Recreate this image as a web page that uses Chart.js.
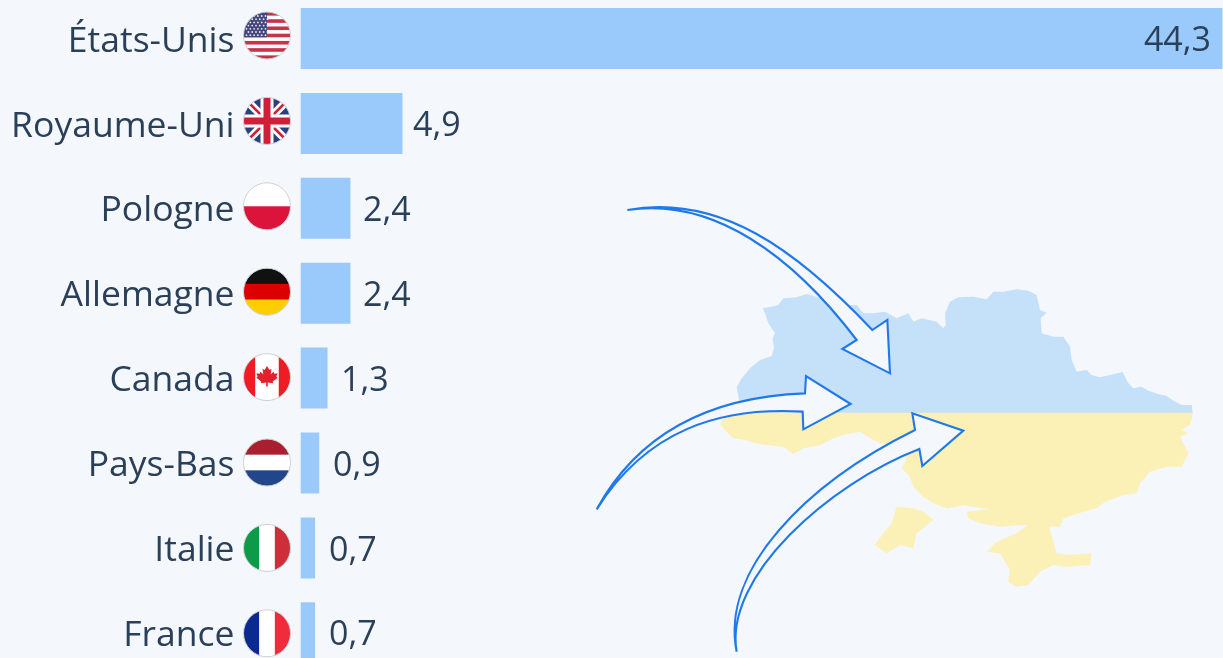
<!DOCTYPE html>
<html lang="fr">
<head>
<meta charset="utf-8">
<title>États-Unis et aide à l'Ukraine</title>
<script src="https://cdn.jsdelivr.net/npm/chart.js@4/dist/chart.umd.min.js"></script>
<style>
    html, body { margin: 0; width: 1223px; height: 658px; overflow: hidden; background: #f4f7fb; }
    #wrap { position: absolute; left: 0; top: -5px; }
    canvas { display: block; }
</style>
</head>
<body>
<div id="wrap"><canvas id="barChart" width="1237" height="690" style="width:1237px;height:690px"></canvas></div>
<script>
const categories = ['États-Unis', 'Royaume-Uni', 'Pologne', 'Allemagne', 'Canada', 'Pays-Bas', 'Italie', 'France'];
const values = [44.3, 4.9, 2.4, 2.4, 1.3, 0.9, 0.7, 0.7];
const flagCodes = ['us', 'uk', 'pl', 'de', 'ca', 'nl', 'it', 'fr'];

const BG = '#f4f7fb';
const TEXT = '#2a3f58';
const CANVAS_TOP = 5; // the canvas is pushed 5px above the window

const mapMain = [[110,352],[125,325],[150,295],[180,270],[215,258],[222,235],[218,205],[225,190],[205,160],[195,130],[188,115],[215,110],[235,105],[250,85],[290,82],[320,72],[350,80],[380,90],[420,105],[470,105],[490,130],[520,130],[555,125],[590,145],[625,130],[640,155],[665,145],[710,155],[730,175],[737,165],[735,130],[750,95],[775,82],[820,80],[860,88],[880,65],[910,65],[950,58],[985,62],[1010,75],[1020,120],[1040,128],[1022,145],[1025,190],[1060,200],[1090,200],[1110,230],[1115,270],[1130,305],[1160,300],[1175,315],[1200,322],[1230,315],[1268,306],[1285,340],[1300,355],[1325,350],[1345,362],[1375,372],[1400,378],[1420,392],[1445,405],[1475,405],[1478,428],[1470,465],[1445,480],[1465,490],[1440,500],[1465,550],[1445,590],[1400,590],[1350,605],[1320,640],[1310,670],[1270,675],[1215,695],[1190,715],[1150,725],[1090,745],[1080,770],[1040,770],[960,765],[900,770],[840,760],[805,745],[800,725],[868,718],[790,706],[740,715],[700,700],[670,680],[640,650],[630,620],[605,595],[620,565],[580,530],[530,515],[480,485],[440,492],[400,505],[360,525],[310,535],[280,552],[250,530],[200,525],[165,520],[135,510],[100,505],[75,480],[60,462],[85,428],[118,395]];
const mapBudjak = [[590,710],[640,715],[670,725],[700,750],[650,790],[640,835],[600,825],[560,850],[525,825],[550,790],[575,760]];
const mapCrimea = [[1045,765],[1070,850],[1100,855],[1175,850],[1170,885],[1100,890],[1060,885],[1020,905],[985,945],[950,950],[925,935],[930,900],[900,850],[860,845],[890,815],[950,790],[985,765]];

const arrows = [
    { tail: [142,60], up: [[420,10],[650,180],[877,420]], head: [[922,390],[930,550],[787,477],[830,450]], down: [[640,200],[400,20],[142,60]] },
    { tail: [50,958], up: [[180,720],[400,620],[675,610]], head: [[678,558],[812,642],[670,718],[668,665]], down: [[420,650],[200,720],[50,958]] },
    { tail: [470,1385], up: [[420,1140],[680,880],[1005,720]], head: [[997,670],[1150,722],[1027,828],[1018,777]], down: [[750,880],[430,1160],[470,1385]] }
];

function tracePoly(ctx, pts) {
    ctx.beginPath();
    pts.forEach((p, i) => {
        const x = 700 + p[0] / 3, y = 270 + p[1] / 3;
        if (i === 0) ctx.moveTo(x, y); else ctx.lineTo(x, y);
    });
    ctx.closePath();
}

function drawMap(ctx) {
    const splitY = 270 + 428 / 3;
    [[-10, splitY + 10, '#c5e0f9'], [splitY, 700, '#fbf0b5']].forEach(([from, to, color]) => {
        ctx.save();
        ctx.beginPath();
        ctx.rect(0, from, 1300, to - from);
        ctx.clip();
        ctx.fillStyle = color;
        [mapMain, mapBudjak, mapCrimea].forEach(poly => {
            tracePoly(ctx, poly);
            ctx.fill();
        });
        ctx.restore();
    });
}

function drawArrows(ctx) {
    const ax = v => 580 + v / 3;
    const ay = v => 190 + v / 3;
    arrows.forEach(a => {
        ctx.beginPath();
        ctx.moveTo(ax(a.tail[0]), ay(a.tail[1]));
        ctx.bezierCurveTo(ax(a.up[0][0]), ay(a.up[0][1]), ax(a.up[1][0]), ay(a.up[1][1]), ax(a.up[2][0]), ay(a.up[2][1]));
        a.head.forEach(p => ctx.lineTo(ax(p[0]), ay(p[1])));
        ctx.bezierCurveTo(ax(a.down[0][0]), ay(a.down[0][1]), ax(a.down[1][0]), ay(a.down[1][1]), ax(a.down[2][0]), ay(a.down[2][1]));
        ctx.closePath();
        ctx.fillStyle = BG;
        ctx.fill();
        ctx.strokeStyle = '#2079ea';
        ctx.lineWidth = 2.1;
        ctx.lineJoin = 'miter';
        ctx.stroke();
    });
}

// Flags are drawn in a 47px box around the centre of the circle
function stripesH(ctx, r, colors) {
    const h = 2 * r / colors.length;
    colors.forEach((c, i) => { ctx.fillStyle = c; ctx.fillRect(-r, -r + i * h, 2 * r, h + 0.5); });
}
function stripesV(ctx, r, colors) {
    const w = 2 * r / colors.length;
    colors.forEach((c, i) => { ctx.fillStyle = c; ctx.fillRect(-r + i * w, -r, w + 0.5, 2 * r); });
}
function drawUS(ctx, r) {
    const rows = [];
    for (let i = 0; i < 13; i++) rows.push(i % 2 ? '#ffffff' : '#c8324a');
    stripesH(ctx, r, rows);
    ctx.fillStyle = '#46467f';
    ctx.fillRect(-r, -r, r, r * 7 / 6.5);
    ctx.fillStyle = '#e8e8f2';
    for (let row = 0; row < 7; row++) {
        for (let col = 0; col < 6; col++) {
            ctx.beginPath();
            ctx.arc(-r + 3 + col * 3.8 + (row % 2 ? 1.9 : 0), -r + 4 + row * 3.2, 0.9, 0, Math.PI * 2);
            ctx.fill();
        }
    }
}
function drawUK(ctx, r) {
    ctx.fillStyle = '#27407f';
    ctx.fillRect(-r, -r, 2 * r, 2 * r);
    const line = (x1, y1, x2, y2, color, w) => {
        ctx.strokeStyle = color;
        ctx.lineWidth = w;
        ctx.beginPath();
        ctx.moveTo(x1, y1);
        ctx.lineTo(x2, y2);
        ctx.stroke();
    };
    line(-r, -r, r, r, '#ffffff', 8);
    line(-r, r, r, -r, '#ffffff', 8);
    line(-r, -r, r, r, '#cf1f3a', 2.6);
    line(-r, r, r, -r, '#cf1f3a', 2.6);
    line(-r, 0, r, 0, '#ffffff', 13);
    line(0, -r, 0, r, '#ffffff', 13);
    line(-r, 0, r, 0, '#cf1f3a', 7);
    line(0, -r, 0, r, '#cf1f3a', 7);
}
function drawCA(ctx, r) {
    stripesV(ctx, r, ['#ee1c25', '#ffffff', '#ffffff', '#ee1c25']);
    const leaf = [[0,-13],[3,-8],[5.5,-9.5],[4.5,-3],[8,-6],[9,-3.5],[13,-4],[11.5,0],[13,1.5],[7,6],[7.5,8],[1,7.2],[1,12],[-1,12],[-1,7.2],[-7.5,8],[-7,6],[-13,1.5],[-11.5,0],[-13,-4],[-9,-3.5],[-8,-6],[-4.5,-3],[-5.5,-9.5],[-3,-8]];
    ctx.fillStyle = '#e4202c';
    ctx.beginPath();
    leaf.forEach((p, i) => {
        const x = p[0] * 0.82, y = p[1] * 0.82 - 0.5;
        if (i === 0) ctx.moveTo(x, y); else ctx.lineTo(x, y);
    });
    ctx.closePath();
    ctx.fill();
}
const flagDraw = {
    us: drawUS,
    uk: drawUK,
    ca: drawCA,
    pl: (ctx, r) => stripesH(ctx, r, ['#ffffff', '#dc143c']),
    de: (ctx, r) => stripesH(ctx, r, ['#111111', '#dd0000', '#ffce00']),
    nl: (ctx, r) => stripesH(ctx, r, ['#a8202f', '#ffffff', '#21468b']),
    it: (ctx, r) => stripesV(ctx, r, ['#0f9a4a', '#ffffff', '#cd2e3a']),
    fr: (ctx, r) => stripesV(ctx, r, ['#0a2a8f', '#ffffff', '#ef2b3c'])
};

const decorations = {
    id: 'decorations',
    beforeDatasetsDraw(chart) {
        const ctx = chart.ctx;
        ctx.save();
        ctx.translate(0, CANVAS_TOP);
        drawMap(ctx);
        drawArrows(ctx);
        ctx.restore();
    },
    afterDatasetsDraw(chart) {
        const ctx = chart.ctx;
        const yScale = chart.scales.y;
        const bars = chart.getDatasetMeta(0).data;
        const r = 23.5;
        flagCodes.forEach((code, i) => {
            ctx.save();
            // the flag column has a slightly wider pitch than the bars
            ctx.translate(267, yScale.getPixelForValue(i) - 3 + 0.5 * i);
            ctx.beginPath();
            ctx.arc(0, 0, r, 0, Math.PI * 2);
            ctx.save();
            ctx.clip();
            flagDraw[code](ctx, r);
            ctx.restore();
            ctx.beginPath();
            ctx.arc(0, 0, r, 0, Math.PI * 2);
            ctx.strokeStyle = '#cdd0d4';
            ctx.lineWidth = 1;
            ctx.stroke();
            ctx.restore();
        });

        // Value labels: inside the bar for the long one, beside it for the others
        ctx.save();
        ctx.font = '34px "Open Sans"';
        ctx.fillStyle = TEXT;
        ctx.textBaseline = 'middle';
        bars.forEach((bar, i) => {
            const label = values[i].toFixed(1).replace('.', ',');
            const y = bar.y + 3;
            if (values[i] > 20) {
                ctx.textAlign = 'right';
                ctx.fillText(label, 1211, y);
            } else {
                ctx.textAlign = 'left';
                ctx.fillText(label, bar.x + 14.5 - 0.8 * values[i], y);
            }
        });
        ctx.restore();
    }
};

new Chart(document.getElementById('barChart'), {
    type: 'bar',
    data: {
        labels: categories,
        datasets: [{
            data: values,
            backgroundColor: '#99cafb',
            barPercentage: 0.718,
            categoryPercentage: 1
        }]
    },
    options: {
        indexAxis: 'y',
        responsive: false,
        animation: false,
        layout: { padding: { top: 1.05, bottom: 9.75, left: 0, right: 0 } },
        scales: {
            x: { display: false, min: 0, max: 45 },
            y: {
                afterFit: scale => {
                    // the big tick padding would otherwise shrink the plot height too
                    scale.width = 300.5;
                    scale.paddingTop = 0;
                    scale.paddingBottom = 0;
                },
                grid: { display: false, drawTicks: false },
                border: { display: false },
                ticks: {
                    autoSkip: false,
                    padding: 66,
                    labelOffset: 3,
                    color: TEXT,
                    font: { family: '"Open Sans"', size: 35.5 }
                }
            }
        },
        plugins: { legend: { display: false }, tooltip: { enabled: false } }
    },
    plugins: [decorations]
});
</script>
</body>
</html>
